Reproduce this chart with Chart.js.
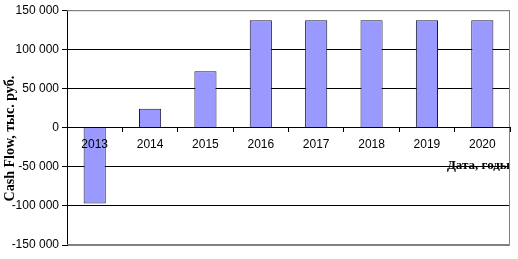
<!DOCTYPE html>
<html>
<head>
<meta charset="utf-8">
<script src="https://cdn.jsdelivr.net/npm/chart.js@4"></script>
<style>
  html, body { margin: 0; padding: 0; background: #fff; }
  #cashFlowChart { display: block; }
</style>
</head>
<body>
<canvas id="cashFlowChart" width="518" height="259"></canvas>
<script>
// Данные графика
const years = ["2013", "2014", "2015", "2016", "2017", "2018", "2019", "2020"];
const cashFlow = [-97000, 24000, 72000, 137000, 137000, 137000, 137000, 137000];
const yMin = -150000;
const yMax = 150000;
const yStep = 50000;

const yTitle = "Cash Flow, тыс. руб.";
const xTitle = "Дата, годы";

function formatThousands(v) {
    const s = Math.abs(v).toString().replace(/\B(?=(\d{3})+(?!\d))/g, " ");
    return (v < 0 ? "-" : "") + s;
}

// серая рамка области построения (верх, право, низ)
const plotFrame = {
    id: "plotFrame",
    beforeDatasetsDraw(chart) {
        const { ctx, chartArea: a } = chart;
        ctx.save();
        ctx.strokeStyle = "#808080";
        ctx.lineWidth = 1;
        ctx.beginPath();
        ctx.moveTo(a.left, a.top + 0.5);
        ctx.lineTo(Math.round(a.right) - 0.5, a.top + 0.5);
        ctx.lineTo(Math.round(a.right) - 0.5, Math.round(a.bottom) - 0.5);
        ctx.lineTo(a.left, Math.round(a.bottom) - 0.5);
        ctx.stroke();
        ctx.restore();
    },
};

// подпись оси Y (чуть ниже центра, как в оригинале)
const yAxisTitle = {
    id: "yAxisTitle",
    afterDraw(chart) {
        const { ctx, chartArea: a } = chart;
        ctx.save();
        ctx.translate(10, (a.top + a.bottom) / 2 + 11);
        ctx.rotate(-Math.PI / 2);
        ctx.font = "bold 14px 'Liberation Serif'";
        ctx.fillStyle = "#000";
        ctx.textAlign = "center";
        ctx.textBaseline = "middle";
        ctx.fillText(yTitle, 0, 0);
        ctx.restore();
    },
};

const ctx = document.getElementById("cashFlowChart").getContext("2d");

new Chart(ctx, {
    type: "bar",
    data: {
        labels: years,
        datasets: [
            {
                label: yTitle,
                data: cashFlow,
                backgroundColor: "#9999FF",
                borderColor: "#1a1a33",
                borderWidth: 1,
                barPercentage: 0.4,
                categoryPercentage: 1,
            },
        ],
    },
    options: {
        responsive: false,
        devicePixelRatio: 1,
        animation: false,
        layout: { padding: { left: 0, top: 10, right: 8, bottom: 14 } },
        plugins: {
            legend: { display: false },
            tooltip: { enabled: false },
        },
        scales: {
            x: {
                type: "category",
                position: { y: 0 },
                offset: true,
                grid: {
                    drawOnChartArea: false,
                    drawTicks: true,
                    tickLength: 4,
                    color: "#000",
                    offset: true,
                },
                border: { display: true, color: "#000", z: 1 },
                ticks: {
                    color: "#000",
                    padding: 6,
                    z: 1,
                    font: { family: "Liberation Sans", size: 12 },
                },
                title: {
                    display: true,
                    text: xTitle,
                    align: "end",
                    color: "#000",
                    font: { family: "Liberation Serif", size: 13, weight: "bold" },
                    padding: 0,
                },
            },
            y: {
                min: yMin,
                max: yMax,
                afterFit(scale) {
                    scale.width = 67;
                },
                ticks: {
                    stepSize: yStep,
                    color: "#000",
                    padding: 3,
                    font: { family: "Liberation Sans", size: 12 },
                    callback: (v) => formatThousands(v),
                },
                grid: {
                    color: (c) =>
                        c.tick && (c.tick.value === yMin || c.tick.value === yMax)
                            ? "#808080"
                            : "#000",
                    tickColor: "#000",
                    tickLength: 5,
                },
                border: { display: true, color: "#000" },
            },
        },
    },
    plugins: [plotFrame, yAxisTitle],
});
</script>
</body>
</html>
